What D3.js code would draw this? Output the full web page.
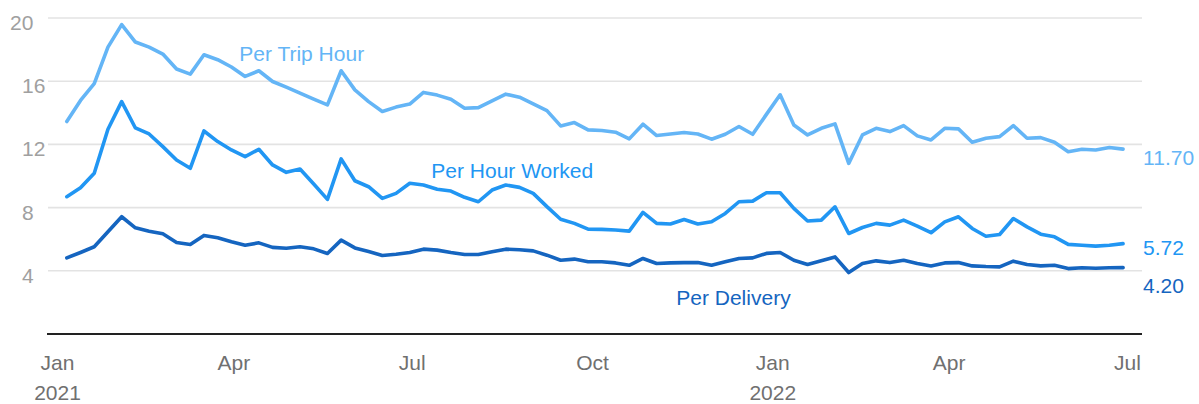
<!DOCTYPE html>
<html>
<head>
<meta charset="utf-8">
<script src="https://cdn.jsdelivr.net/npm/d3@7"></script>
<style>
  html, body { margin: 0; padding: 0; background: #fff; }
  svg { display: block; font-family: "Liberation Sans", Arial, sans-serif; }
</style>
</head>
<body>
<div id="chart"></div>
<script>
// weekly series, first week starting Jan 6 2021
var firstWeek = new Date(2021, 0, 6);
var NUM_WEEKS = 78;

var perTripHour = [13.45, 14.78, 15.84, 18.16, 19.58, 18.48, 18.16, 17.72, 16.77, 16.45, 17.67, 17.36, 16.9,
  16.30, 16.66, 15.98, 15.62, 15.24, 14.86, 14.50, 16.66, 15.45, 14.71, 14.08, 14.36, 14.55,
  15.29, 15.12, 14.86, 14.29, 14.33, 14.76, 15.18, 14.99, 14.57, 14.14, 13.17, 13.38, 12.92,
  12.88, 12.77, 12.35, 13.28, 12.56, 12.66, 12.75, 12.66, 12.33, 12.64, 13.13, 12.64, 13.9,
  15.14, 13.23, 12.60, 13.02, 13.30, 10.80, 12.60, 13.02, 12.81, 13.19, 12.54, 12.28, 13.02,
  12.98, 12.14, 12.39, 12.49, 13.19, 12.39, 12.43, 12.14, 11.54, 11.69, 11.65, 11.80, 11.70];

var perHourWorked = [8.69, 9.26, 10.17, 12.96, 14.71, 13.04, 12.66, 11.86, 11.01, 10.49, 12.85, 12.18, 11.65,
  11.23, 11.69, 10.70, 10.23, 10.44, 9.49, 8.52, 11.08, 9.70, 9.32, 8.58, 8.90, 9.54,
  9.43, 9.16, 9.05, 8.65, 8.37, 9.11, 9.43, 9.28, 8.90, 8.06, 7.26, 7.00, 6.64,
  6.62, 6.58, 6.51, 7.70, 7.00, 6.96, 7.25, 6.96, 7.10, 7.63, 8.37, 8.41, 8.94,
  8.94, 7.95, 7.15, 7.21, 8.05, 6.36, 6.74, 7.00, 6.89, 7.21, 6.83, 6.41, 7.10,
  7.42, 6.68, 6.19, 6.30, 7.31, 6.78, 6.32, 6.15, 5.67, 5.62, 5.56, 5.62, 5.72];

var perDelivery = [4.82, 5.16, 5.52, 6.47, 7.42, 6.72, 6.51, 6.34, 5.79, 5.67, 6.24, 6.09, 5.84,
  5.62, 5.77, 5.48, 5.43, 5.52, 5.39, 5.10, 5.94, 5.45, 5.22, 4.97, 5.05, 5.16,
  5.37, 5.31, 5.16, 5.03, 5.03, 5.20, 5.37, 5.33, 5.26, 4.99, 4.67, 4.74, 4.57,
  4.57, 4.50, 4.35, 4.78, 4.46, 4.50, 4.52, 4.52, 4.35, 4.57, 4.78, 4.82, 5.10,
  5.16, 4.67, 4.40, 4.63, 4.88, 3.89, 4.46, 4.63, 4.52, 4.67, 4.46, 4.31, 4.50,
  4.52, 4.31, 4.27, 4.25, 4.61, 4.40, 4.31, 4.35, 4.14, 4.19, 4.16, 4.19, 4.20];

var yTicks = [4, 8, 12, 16, 20];
var xTicks = [new Date(2021, 0, 1), new Date(2021, 3, 1), new Date(2021, 6, 1), new Date(2021, 9, 1),
              new Date(2022, 0, 1), new Date(2022, 3, 1), new Date(2022, 6, 1)];

var series = [
  {name: "Per Trip Hour",   values: perTripHour,   color: "#64b5f6", end: "11.70", endDy: 16,
   labelDate: new Date(2021, 3, 4), labelValue: 17.3},
  {name: "Per Hour Worked", values: perHourWorked, color: "#2196f3", end: "5.72", endDy: 11.5,
   labelDate: new Date(2021, 6, 11), labelValue: 9.9},
  {name: "Per Delivery",    values: perDelivery,   color: "#1565c0", end: "4.20", endDy: 25,
   labelDate: new Date(2021, 10, 13), labelValue: 1.85}
];

const width = 1196;
const height = 404;
const plot = {left: 47, right: 1142};

var weeks = d3.range(NUM_WEEKS).map(i => d3.timeDay.offset(firstWeek, 7 * i));

var svg = d3.select("#chart").append("svg")
  .attr("width", width)
  .attr("height", height);

var xScale = d3.scaleTime()
  .domain([new Date(2021, 0, 1), new Date(2022, 6, 1)])
  .range([57, 1127]);

var yScale = d3.scaleLinear()
  .domain([0, 20])
  .range([334, 18]);

// gridlines
svg.append("g")
  .selectAll("line")
  .data(yTicks)
  .join("line")
  .attr("x1", plot.left + 1)
  .attr("x2", plot.right)
  .attr("y1", d => yScale(d))
  .attr("y2", d => yScale(d))
  .attr("stroke", "#e3e3e3")
  .attr("stroke-width", 1.6);

// y labels
var yAxis = d3.axisLeft(yScale).tickValues(yTicks).tickSize(0).tickPadding(0);
var yG = svg.append("g").attr("transform", "translate(22,0)").call(yAxis);
yG.select(".domain").remove();
yG.selectAll("text")
  .attr("text-anchor", "start")
  .attr("x", d => d === 20 ? -12 : 0)   // the top label sits further left in the original
  .attr("dy", "0.55em")
  .attr("y", 0)
  .style("font-size", "21px")
  .style("font-family", "Liberation Sans, Arial, sans-serif")
  .attr("fill", "#a0a0a0");

// x axis
var xAxis = d3.axisBottom(xScale).tickValues(xTicks).tickSize(0).tickFormat(d3.timeFormat("%b"));
var xG = svg.append("g").attr("transform", `translate(0,${yScale(0)})`).call(xAxis);
xG.select(".domain").remove();
xG.selectAll("text")
  .attr("y", 36)
  .attr("dy", 0)
  .style("font-size", "21px")
  .style("font-family", "Liberation Sans, Arial, sans-serif")
  .attr("fill", "#707070")
  .each(function(d) {
    if (d.getMonth() === 0) {
      d3.select(this).append("tspan")
        .attr("x", 0)
        .attr("dy", 30)
        .text(d.getFullYear());
    }
  });

svg.append("line")
  .attr("x1", plot.left)
  .attr("x2", plot.right)
  .attr("y1", yScale(0))
  .attr("y2", yScale(0))
  .attr("stroke", "#222")
  .attr("stroke-width", 2);

// lines
var line = d3.line()
  .x((d, i) => xScale(weeks[i]))
  .y(d => yScale(d));

series.forEach(function(s) {
  svg.append("path")
    .datum(s.values)
    .attr("fill", "none")
    .attr("stroke", s.color)
    .attr("stroke-width", 3.6)
    .attr("stroke-linejoin", "round")
    .attr("stroke-linecap", "round")
    .attr("d", line);

  svg.append("text")
    .attr("x", xScale(s.labelDate))
    .attr("y", yScale(s.labelValue))
    .attr("fill", s.color)
    .style("font-size", "21px")
    .text(s.name);

  var last = s.values[s.values.length - 1];
  svg.append("text")
    .attr("x", xScale(weeks[weeks.length - 1]) + 20)
    .attr("y", yScale(last) + s.endDy)
    .attr("fill", s.color)
    .style("font-size", "21px")
    .text(s.end);
});
</script>
</body>
</html>
